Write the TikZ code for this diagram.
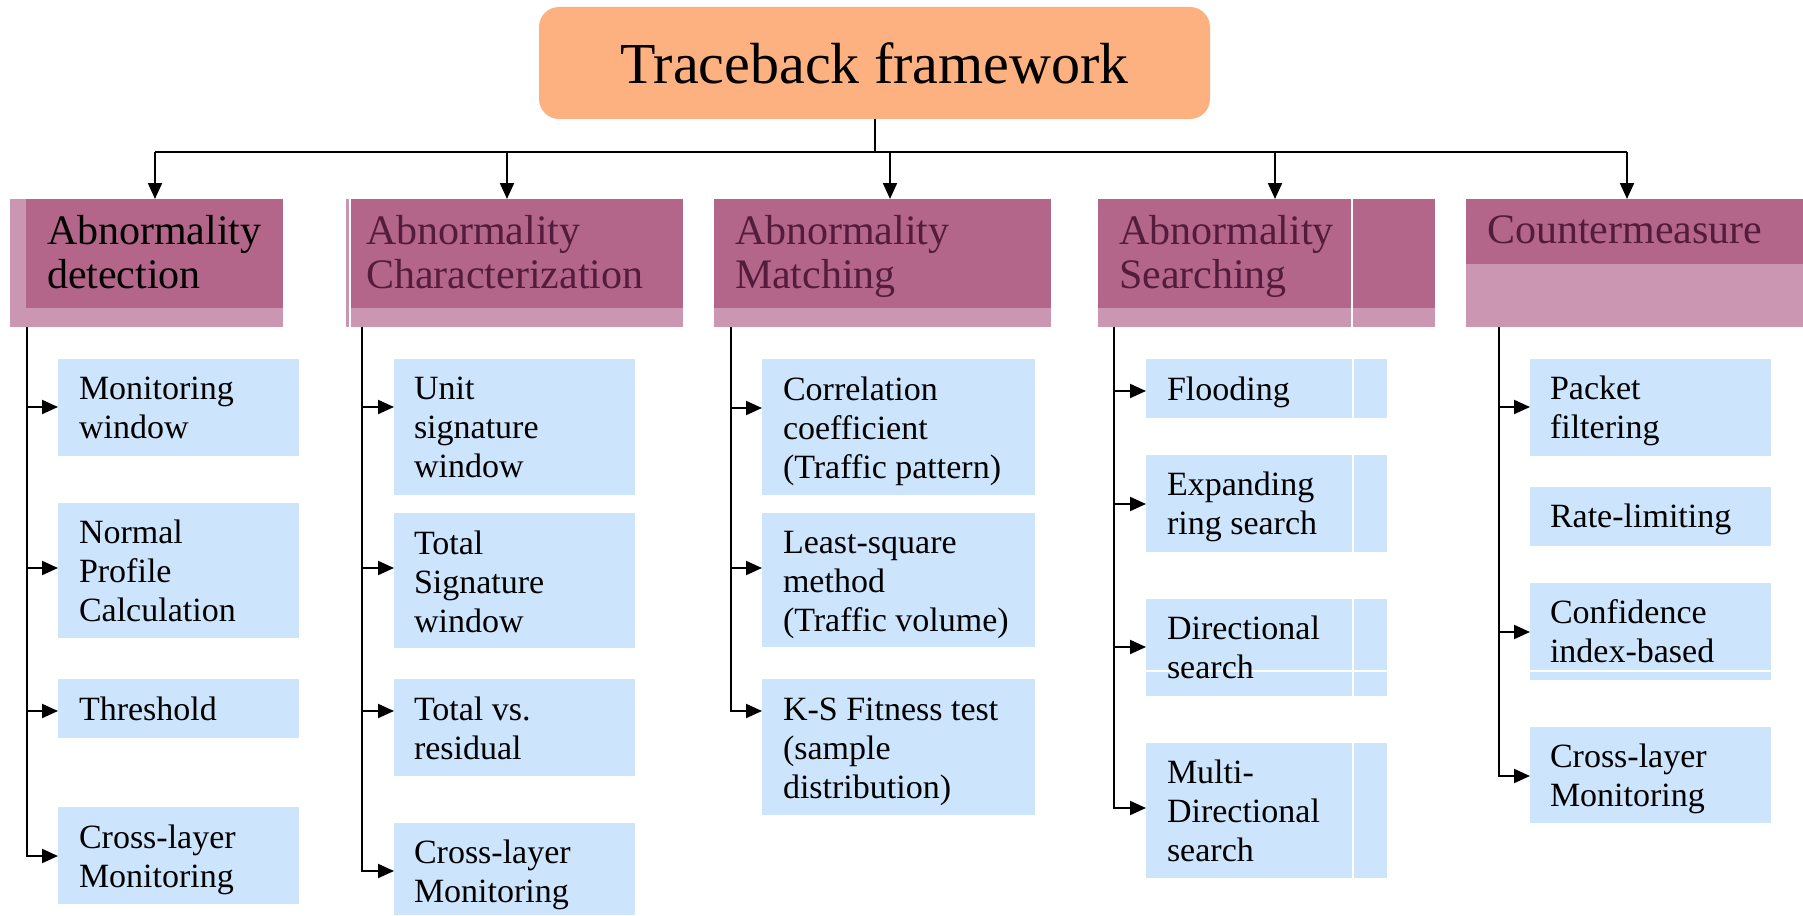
\documentclass[tikz,border=0pt]{standalone}
\usepackage{fontspec}
\setmainfont{Liberation Serif}
\usetikzlibrary{arrows.meta}
\definecolor{titlefill}{RGB}{253,177,128}
\definecolor{hdark}{RGB}{179,102,138}
\definecolor{hlight}{RGB}{203,150,178}
\definecolor{subfill}{RGB}{204,228,252}
\definecolor{htext}{RGB}{84,28,60}
\newcommand\mlines[1]{\begin{tabular}[t]{@{}l@{}}#1\end{tabular}}
\newcommand\rbox[6]{\node[#2, anchor=north west, minimum width={(#5-#3)*1pt}, minimum height={(#6-#4)*1pt}] (#1) at (#3,#4) {};}
\tikzset{
  plainbox/.style={inner sep=0pt, outer sep=0pt, draw=none},
  hd/.style={plainbox, fill=hdark},
  hl/.style={plainbox, fill=hlight},
  sub/.style={plainbox, fill=subfill},
  subtxt/.style={anchor=base west, inner sep=0pt, outer sep=0pt, font=\fontsize{34}{39}\selectfont},
  hdtxt/.style={anchor=base west, inner sep=0pt, outer sep=0pt, font=\fontsize{42}{44}\selectfont, text=htext},
  titlebox/.style={plainbox, fill=titlefill, rounded corners=20pt, minimum width=671pt, minimum height=112pt, font=\fontsize{58}{60}\selectfont},
  conn/.style={line width=2pt, draw=black},
  arr/.style={conn, -{Triangle[length=16pt,width=14pt]}},
  wline/.style={draw=white, line width=1.2pt}
}
\begin{document}
\begin{tikzpicture}[x=1pt,y=-1pt]
\useasboundingbox (0,0) rectangle (1803,915);

% title
\node[titlebox] (title) at (874.5,63) {Traceback framework};

% headers
\rbox{h1l}{hl}{10}{199}{283}{327}
\rbox{h1}{hd}{26}{199}{283}{308}
\node[hdtxt, text=black] (h1t) at (47,244) {\mlines{Abnormality\\detection}};

\rbox{h2l}{hl}{346}{199}{683}{327}
\rbox{h2}{hd}{351}{199}{683}{308}
\draw[wline] (350,199) -- (350,327);
\node[hdtxt] (h2t) at (366,244) {\mlines{Abnormality\\Characterization}};

\rbox{h3l}{hl}{714}{199}{1051}{327}
\rbox{h3}{hd}{714}{199}{1051}{308}
\node[hdtxt] (h3t) at (735,244) {\mlines{Abnormality\\Matching}};

\rbox{h4l}{hl}{1098}{199}{1435}{327}
\rbox{h4}{hd}{1098}{199}{1435}{308}
\draw[wline] (1352,199) -- (1352,327);
\node[hdtxt] (h4t) at (1119,244) {\mlines{Abnormality\\Searching}};

\rbox{h5l}{hl}{1466}{199}{1803}{327}
\rbox{h5}{hd}{1466}{199}{1803}{264}
\node[hdtxt] (h5t) at (1487,243) {Countermeasure};

% top connectors
\coordinate (b1) at (155,152);
\coordinate (b2) at (507,152);
\coordinate (b3) at (890,152);
\coordinate (b4) at (1275,152);
\coordinate (b5) at (1627,152);
\draw[conn] (title.south) -- (title.south |- b1);
\draw[conn] (b1) -- (b5);
\draw[arr] (b1) -- (b1 |- h1.north);
\draw[arr] (b2) -- (b2 |- h2.north);
\draw[arr] (b3) -- (b3 |- h3.north);
\draw[arr] (b4) -- (b4 |- h4.north);
\draw[arr] (b5) -- (b5 |- h5.north);

% column 1
\rbox{c1b1}{sub}{58}{359}{299}{456}
\rbox{c1b2}{sub}{58}{503}{299}{638}
\rbox{c1b3}{sub}{58}{679}{299}{738}
\rbox{c1b4}{sub}{58}{807}{299}{904}
\node[subtxt] (c1t1) at (79,399) {\mlines{Monitoring\\window}};
\node[subtxt] (c1t2) at (79,543) {\mlines{Normal\\Profile\\Calculation}};
\node[subtxt] (c1t3) at (79,720) {Threshold};
\node[subtxt] (c1t4) at (79,848) {\mlines{Cross-layer\\Monitoring}};
\coordinate (v1) at (27,327);
\draw[conn] (v1) -- (v1 |- 0,856);
\draw[arr] (v1 |- 0,407) -- (c1b1.west |- 0,407);
\draw[arr] (v1 |- 0,568) -- (c1b2.west |- 0,568);
\draw[arr] (v1 |- 0,711) -- (c1b3.west |- 0,711);
\draw[arr] (v1) |- (c1b4.west |- 0,856);

% column 2
\rbox{c2b1}{sub}{394}{359}{635}{495}
\rbox{c2b2}{sub}{394}{513}{635}{648}
\rbox{c2b3}{sub}{394}{679}{635}{776}
\rbox{c2b4}{sub}{394}{823}{635}{915}
\node[subtxt] (c2t1) at (414,399) {\mlines{Unit\\signature\\window}};
\node[subtxt] (c2t2) at (414,554) {\mlines{Total\\Signature\\window}};
\node[subtxt] (c2t3) at (414,720) {\mlines{Total vs.\\residual}};
\node[subtxt] (c2t4) at (414,863) {\mlines{Cross-layer\\Monitoring}};
\coordinate (v2) at (362,327);
\draw[conn] (v2) -- (v2 |- 0,871);
\draw[arr] (v2 |- 0,407) -- (c2b1.west |- 0,407);
\draw[arr] (v2 |- 0,568) -- (c2b2.west |- 0,568);
\draw[arr] (v2 |- 0,711) -- (c2b3.west |- 0,711);
\draw[arr] (v2) |- (c2b4.west |- 0,871);

% column 3
\rbox{c3b1}{sub}{762}{359}{1035}{495}
\rbox{c3b2}{sub}{762}{513}{1035}{647}
\rbox{c3b3}{sub}{762}{679}{1035}{815}
\node[subtxt] (c3t1) at (783,400) {\mlines{Correlation\\coefficient\\(Traffic pattern)}};
\node[subtxt] (c3t2) at (783,553) {\mlines{Least-square\\method\\(Traffic volume)}};
\node[subtxt] (c3t3) at (783,720) {\mlines{K-S Fitness test\\(sample\\distribution)}};
\coordinate (v3) at (731,327);
\draw[conn] (v3) -- (v3 |- 0,711);
\draw[arr] (v3 |- 0,408) -- (c3b1.west |- 0,408);
\draw[arr] (v3 |- 0,568) -- (c3b2.west |- 0,568);
\draw[arr] (v3) |- (c3b3.west |- 0,711);

% column 4
\rbox{c4b1}{sub}{1146}{359}{1387}{418}
\rbox{c4b2}{sub}{1146}{455}{1387}{552}
\rbox{c4b3}{sub}{1146}{599}{1387}{696}
\rbox{c4b4}{sub}{1146}{743}{1387}{878}
\foreach \n in {c4b1,c4b2,c4b3,c4b4}{
  \draw[wline] (\n.north west -| 1353,0) -- (\n.south west -| 1353,0);
}
\draw[wline] (c4b3.west |- 0,671) -- (c4b3.east |- 0,671);
\node[subtxt] (c4t1) at (1167,400) {Flooding};
\node[subtxt] (c4t2) at (1167,495) {\mlines{Expanding\\ring search}};
\node[subtxt] (c4t3) at (1167,639) {\mlines{Directional\\search}};
\node[subtxt] (c4t4) at (1167,783) {\mlines{Multi-\\Directional\\search}};
\coordinate (v4) at (1114,327);
\draw[conn] (v4) -- (v4 |- 0,808);
\draw[arr] (v4 |- 0,391) -- (c4b1.west |- 0,391);
\draw[arr] (v4 |- 0,504) -- (c4b2.west |- 0,504);
\draw[arr] (v4 |- 0,647) -- (c4b3.west |- 0,647);
\draw[arr] (v4) |- (c4b4.west |- 0,808);

% column 5
\rbox{c5b1}{sub}{1530}{359}{1771}{456}
\rbox{c5b2}{sub}{1530}{487}{1771}{546}
\rbox{c5b3}{sub}{1530}{583}{1771}{680}
\rbox{c5b4}{sub}{1530}{727}{1771}{823}
\draw[wline] (c5b3.west |- 0,671) -- (c5b3.east |- 0,671);
\node[subtxt] (c5t1) at (1550,399) {\mlines{Packet\\filtering}};
\node[subtxt] (c5t2) at (1550,527) {Rate-limiting};
\node[subtxt] (c5t3) at (1550,623) {\mlines{Confidence\\index-based}};
\node[subtxt] (c5t4) at (1550,767) {\mlines{Cross-layer\\Monitoring}};
\coordinate (v5) at (1499,327);
\draw[conn] (v5) -- (v5 |- 0,776);
\draw[arr] (v5 |- 0,407) -- (c5b1.west |- 0,407);
\draw[arr] (v5 |- 0,632) -- (c5b3.west |- 0,632);
\draw[arr] (v5) |- (c5b4.west |- 0,776);
\end{tikzpicture}
\end{document}
